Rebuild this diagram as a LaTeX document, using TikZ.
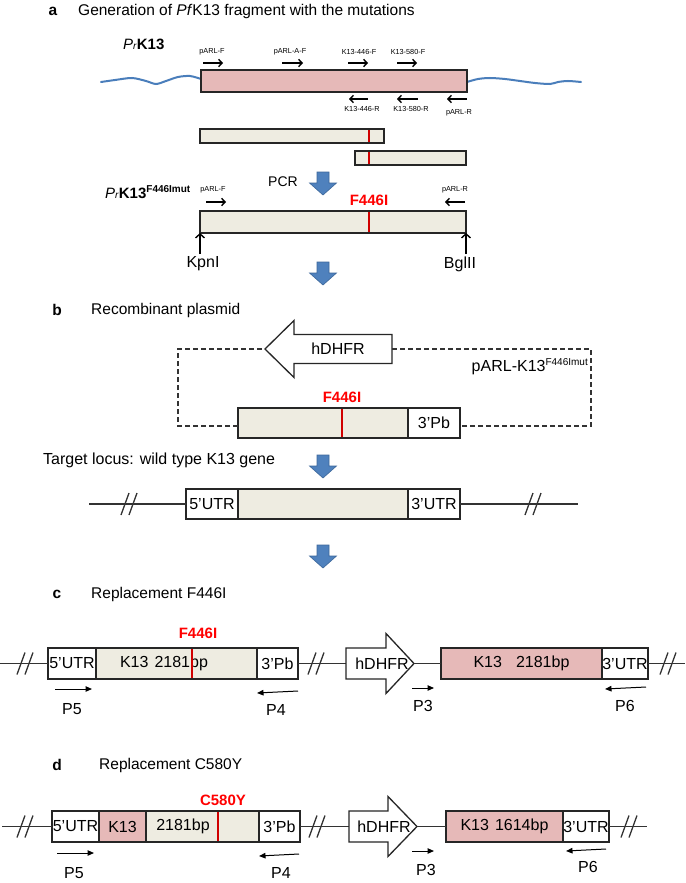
\documentclass[tikz,border=0pt]{standalone}
\usepackage{fontspec}
\setmainfont{Liberation Sans}
\usetikzlibrary{arrows.meta}
\definecolor{pinkf}{HTML}{E6B9B8}
\definecolor{beigef}{HTML}{EEECE1}
\definecolor{bluearr}{HTML}{4F81BD}
\definecolor{bluedark}{HTML}{3C679A}
\definecolor{wave}{HTML}{4A7EBB}
\definecolor{mutred}{HTML}{D00000}
\newcommand\fsz[1]{\fontsize{#1}{#1}\selectfont}
\newcommand\dslash[2]{\draw[chrom] (#1-8,#2+11) -- (#1,#2-11); \draw[chrom] (#1,#2+11) -- (#1+8,#2-11);}
\newcommand\bluedown[2]{\draw[bluearrow] (#1-6,#2) -- (#1+6,#2) -- (#1+6,#2+11) -- (#1+13.5,#2+11) -- (#1,#2+23) -- (#1-13.5,#2+11) -- (#1-6,#2+11) -- cycle;}
\tikzset{
 seg/.style={draw=black!85, line width=1.4pt, inner sep=0pt, outer sep=0pt, anchor=north west, font=\fsz{16}},
 pinkseg/.style={seg, fill=pinkf},
 beigeseg/.style={seg, fill=beigef},
 whiteseg/.style={seg, fill=white},
 mut/.style={draw=mutred, line width=2.8pt},
 txt/.style={inner sep=0pt, font=\fsz{16}},
 ttl/.style={inner sep=0pt, anchor=west, font=\fsz{15.5}},
 letter/.style={inner sep=0pt, font=\bfseries\fsz{15.5}},
 plbl/.style={inner sep=0pt, font=\fsz{7.3}},
 primer/.style={line width=1.4pt, -{Straight Barb[length=3.5pt,width=7.5pt]}},
 pa/.style={line width=1pt, -{Triangle[length=6.5pt,width=5.5pt]}},
 mutlbl/.style={inner sep=0pt, text=red, font=\bfseries\fsz{15}},
 chrom/.style={line width=1.3pt, draw=black!80},
 bluearrow/.style={fill=bluearr, draw=bluedark, line width=0.6pt, line join=miter},
 dna/.style={draw=wave, line width=2pt, line cap=round},
 plasmid/.style={draw=black!80, line width=1.2pt, dash pattern=on 5pt off 3pt},
 hd/.style={draw=black!85, line width=1.3pt, fill=white, line join=miter},
 site/.style={line width=1.4pt, -{Straight Barb[length=4pt,width=9pt]}},
}
\begin{document}
\begin{tikzpicture}[x=1pt,y=-1pt]
\useasboundingbox (0,0) rectangle (685,883);
\fill[white] (0,0) rectangle (685,883);

% ---------------- panel a
\node[letter] (la) at (53,11) {a};
\node[ttl] (ta) at (78,11) {Generation of \textit{Pf}K13 fragment with the mutations};
\node[inner sep=0pt, anchor=base west] (prk) at (123,49) {\fsz{15}\textit{P}\fsz{10}\textit{r}\fsz{15}\bfseries K13};

\draw[dna] plot[smooth] coordinates {(101,82) (115,80) (132,78) (146,81) (156,84) (166,81) (178,77) (190,76) (201,79)};
\draw[dna] plot[smooth] coordinates {(467,82) (478,79) (490,78) (505,79) (520,81) (535,83) (550,84) (558,82) (568,81) (581,82)};
\node[pinkseg, minimum width=266pt, minimum height=22pt] (kfull) at (201,70) {};

\draw[primer] (203,63) -- (223,63); \node[plbl] (p1) at (212,52) {pARL-F};
\draw[primer] (282,63) -- (303,63); \node[plbl] (p2) at (290,52) {pARL-A-F};
\draw[primer] (348,63) -- (368,63); \node[plbl] (p3) at (359,52) {K13-446-F};
\draw[primer] (397,63) -- (417,63); \node[plbl] (p4) at (408,52) {K13-580-F};
\draw[primer] (368,99) -- (349,99); \node[plbl] (r1) at (362,109) {K13-446-R};
\draw[primer] (418,99) -- (397,99); \node[plbl] (r2) at (411,109) {K13-580-R};
\draw[primer] (467,99) -- (447,99); \node[plbl] (r3) at (459,113) {pARL-R};

\node[beigeseg, minimum width=184pt, minimum height=14pt] (f1) at (200,129) {};
\draw[mut] (369,130) -- (369,142);
\node[beigeseg, minimum width=111pt, minimum height=14pt] (f2) at (355,151) {};
\draw[mut] (369,152) -- (369,164);

\node[txt, font=\fsz{14}] (pcr) at (283,182) {PCR};
\bluedown{323}{172}
\node[inner sep=0pt, anchor=base west] (prkm) at (105,198) {\fsz{15}\textit{P}\fsz{10}\textit{r}\fsz{15}\bfseries K13\raisebox{6pt}{\fsz{10}F446Imut}};
\draw[primer] (206,202) -- (226,202); \node[plbl] (q1) at (213,190) {pARL-F};
\draw[primer] (465,202) -- (445,202); \node[plbl] (q2) at (455,190) {pARL-R};
\node[mutlbl] (m1) at (369,200) {F446I};
\node[beigeseg, minimum width=266pt, minimum height=22pt] (kmut) at (200,211) {};
\draw[mut] (369,212) -- (369,232);
\coordinate (kpn) at (200,254);
\coordinate (bgl) at (466,254);
\draw[site] (kpn) -- (kmut.south west);
\draw[site] (bgl) -- (kmut.south east);
\node[txt] (kpnl) at (203,264) {KpnI};
\node[txt] (bgll) at (460,264) {BglII};
\bluedown{323}{262}

% ---------------- panel b
\node[letter] (lb) at (57,310) {b};
\node[ttl] (tb) at (91,310) {Recombinant plasmid};
\draw[hd] (392,334.5) -- (294,334.5) -- (294,320.5) -- (265,349) -- (294,377.5) -- (294,363.5) -- (392,363.5) -- cycle;
\coordinate (hbtip) at (265,349);
\coordinate (hbend) at (392,349);
\node[txt] (hbl) at (338,349) {hDHFR};
\node[beigeseg, minimum width=170pt, minimum height=30pt] (pk) at (238,408) {};
\node[whiteseg, minimum width=52pt, minimum height=30pt] (ppb) at (408,408) {3’Pb};
\draw[mut] (342,409) -- (342,437);
\node[mutlbl] (m2) at (342,397) {F446I};
\coordinate (pkl) at (238,426);
\coordinate (pkr) at (460,426);
\draw[plasmid] (pkl) -| (178,349) -- (hbtip);
\draw[plasmid] (hbend) -- (591,349) |- (pkr);
\node[inner sep=0pt, anchor=base east] (plab) at (588,371) {\fsz{16}pARL-K13\raisebox{6pt}{\fsz{10}F446Imut}};

\node[txt, anchor=west] (tl) at (43,460) {Target locus: wild type K13 gene};
\bluedown{323}{455}

\node[whiteseg, minimum width=52pt, minimum height=30pt] (t5) at (186,489) {5’UTR};
\node[beigeseg, minimum width=170pt, minimum height=30pt] (tk) at (238,489) {};
\node[whiteseg, minimum width=52pt, minimum height=30pt] (t3) at (408,489) {3’UTR};
\coordinate (tL) at (89,504);
\coordinate (tR) at (578,504);
\draw[chrom] (tL) -- (t5.west);
\draw[chrom] (t3.east) -- (tR);
\dslash{129}{504}
\dslash{533}{504}
\bluedown{323}{545}

% ---------------- panel c
\node[letter] (lc) at (57,594) {c};
\node[ttl] (tc) at (91,594) {Replacement F446I};
\coordinate (cL) at (0,663.5);
\coordinate (cR) at (685,663.5);
\coordinate (chs) at (346,663.5);
\coordinate (cht) at (414,663.5);
\node[whiteseg, minimum width=48pt, minimum height=31pt] (c5) at (48,648) {5’UTR};
\node[beigeseg, minimum width=161pt, minimum height=31pt] (ck) at (96,648) {};
\node[txt] (ckl) at (164,663.5) {K13\hspace{6pt}2181bp};
\draw[mut] (192,649) -- (192,678);
\node[whiteseg, minimum width=41pt, minimum height=31pt] (c3p) at (257,648) {3’Pb};
\node[mutlbl] (m3) at (198,633) {F446I};
\draw[chrom] (cL) -- (c5.west);
\draw[chrom] (c3p.east) -- (chs);
\draw[hd] (346,648) -- (386,648) -- (386,633.5) -- (414,663.5) -- (386,693.5) -- (386,679) -- (346,679) -- cycle;
\node[txt] (chl) at (382,663.5) {hDHFR};
\node[pinkseg, minimum width=161pt, minimum height=31pt] (cp) at (441,648) {K13\hspace{14pt}2181bp};
\node[whiteseg, minimum width=46pt, minimum height=31pt] (c3u) at (602,648) {3’UTR};
\draw[chrom] (cht) -- (cp.west);
\draw[chrom] (c3u.east) -- (cR);
\dslash{25}{663.5}
\dslash{316}{663.5}
\dslash{668}{663.5}
\draw[pa] (55,689) -- (92,689); \node[txt] (cp5) at (72,709) {P5};
\draw[pa] (298,691) -- (257,693); \node[txt] (cp4) at (276,710) {P4};
\draw[pa] (412,688) -- (434,688); \node[txt] (cp3) at (423,706) {P3};
\draw[pa] (646,687) -- (605,689); \node[txt] (cp6) at (625,706) {P6};

% ---------------- panel d
\node[letter] (ld) at (57,765) {d};
\node[ttl] (td) at (99,765) {Replacement C580Y};
\coordinate (dL) at (2,826.5);
\coordinate (dR) at (647,826.5);
\coordinate (dhs) at (349,826.5);
\coordinate (dht) at (417,826.5);
\node[whiteseg, minimum width=47pt, minimum height=31pt] (d5) at (52,811) {5’UTR};
\node[pinkseg, minimum width=47pt, minimum height=31pt] (dk) at (99,811) {K13};
\node[beigeseg, minimum width=113pt, minimum height=31pt] (db) at (146,811) {};
\node[txt] (dbl) at (183,826.5) {2181bp};
\draw[mut] (218,812) -- (218,841);
\node[whiteseg, minimum width=41pt, minimum height=31pt] (d3p) at (259,811) {3’Pb};
\node[mutlbl] (m4) at (223,800) {C580Y};
\draw[chrom] (dL) -- (d5.west);
\draw[chrom] (d3p.east) -- (dhs);
\draw[hd] (349,811) -- (388,811) -- (388,796.5) -- (417,826.5) -- (388,856.5) -- (388,842) -- (349,842) -- cycle;
\node[txt] (dhl) at (384,826.5) {hDHFR};
\node[pinkseg, minimum width=117pt, minimum height=31pt] (dp) at (446,811) {K13\hspace{6pt}1614bp};
\node[whiteseg, minimum width=46pt, minimum height=31pt] (d3u) at (563,811) {3’UTR};
\draw[chrom] (dht) -- (dp.west);
\draw[chrom] (d3u.east) -- (dR);
\dslash{25}{826.5}
\dslash{317}{826.5}
\dslash{629}{826.5}
\draw[pa] (57,853) -- (94,853); \node[txt] (dp5) at (74,873) {P5};
\draw[pa] (299,854) -- (259,856); \node[txt] (dp4) at (281,873) {P4};
\draw[pa] (412,851) -- (434,851); \node[txt] (dp3) at (426,870) {P3};
\draw[pa] (606,849) -- (566,851); \node[txt] (dp6) at (588,867) {P6};
\end{tikzpicture}
\end{document}
